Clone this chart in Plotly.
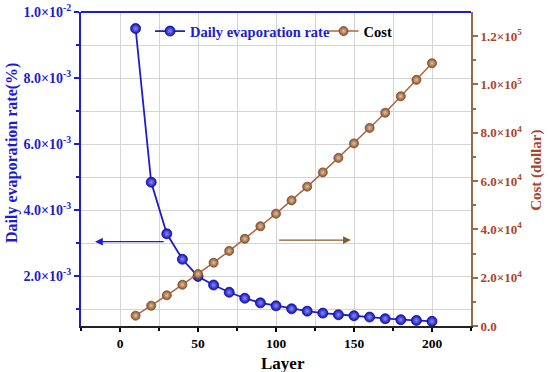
import plotly.graph_objects as go

layers = [10, 20, 30, 40, 50, 60, 70, 80, 90, 100, 110, 120, 130, 140, 150, 160, 170, 180, 190, 200]
evap_rate = [9.5e-3, 4.85e-3, 3.29e-3, 2.52e-3, 2.0e-3, 1.74e-3, 1.52e-3, 1.34e-3, 1.20e-3, 1.11e-3,
             1.02e-3, 0.95e-3, 0.89e-3, 0.84e-3, 0.81e-3, 0.77e-3, 0.72e-3, 0.69e-3, 0.67e-3, 0.64e-3]
cost = [4270, 8400, 12700, 17100, 21500, 26200, 31100, 36100, 41300, 46500,
        52000, 57700, 63600, 69600, 75600, 82000, 88300, 95100, 101900, 108800]

left_tickvals = [2e-3, 4e-3, 6e-3, 8e-3, 1e-2]
left_ticktext = ["2.0×10<sup>-3</sup>", "4.0×10<sup>-3</sup>", "6.0×10<sup>-3</sup>",
                 "8.0×10<sup>-3</sup>", "1.0×10<sup>-2</sup>"]
right_tickvals = [0, 20000, 40000, 60000, 80000, 100000, 120000]
right_ticktext = ["0.0", "2.0×10<sup>4</sup>", "4.0×10<sup>4</sup>", "6.0×10<sup>4</sup>",
                  "8.0×10<sup>4</sup>", "1.0×10<sup>5</sup>", "1.2×10<sup>5</sup>"]

BLUE = "#1c1cd0"
BROWN_LINE = "#9a6a44"
BROWN_TEXT = "#a8462e"
FONT = "Liberation Serif"

fig = go.Figure()
fig.add_trace(go.Scatter(
    x=layers, y=evap_rate, mode="lines+markers",
    name="<span style='color:#1c1cd0'>Daily evaporation rate</span>",
    line=dict(color=BLUE, width=1.8),
    marker=dict(size=10, color="#1010b8", gradient=dict(type="radial", color="#8c8cff"),
                line=dict(color="#10108a", width=0.8)),
    legend="legend", yaxis="y"))
fig.add_trace(go.Scatter(
    x=layers, y=cost, mode="lines+markers", name="Cost",
    line=dict(color="#b0653e", width=1.5),
    marker=dict(size=9, color="#8a5530", gradient=dict(type="radial", color="#e6c29a"),
                line=dict(color="#7a4a2a", width=0.8)),
    legend="legend2", yaxis="y2"))

fig.update_layout(
    width=550, height=372,
    margin=dict(l=81, r=79, t=12, b=46, autoexpand=False),
    paper_bgcolor="white", plot_bgcolor="white",
    font=dict(family=FONT, size=13, color="black"),
    showlegend=True,
    legend=dict(orientation="h", x=0.177, y=0.99, xanchor="left", yanchor="top",
                bgcolor="rgba(0,0,0,0)", font=dict(family=FONT, size=14.5, weight="bold"),
                itemwidth=30),
    legend2=dict(orientation="h", x=0.622, y=0.99, xanchor="left", yanchor="top",
                 bgcolor="rgba(0,0,0,0)", font=dict(family=FONT, size=14.5, weight="bold",
                                                    color="black"),
                 itemwidth=30),
    xaxis=dict(
        range=[-25, 225], tickvals=[0, 50, 100, 150, 200], automargin=False,
        ticks="outside", ticklen=4, tickwidth=1.5, tickcolor="black",
        showline=True, linecolor="#222222", linewidth=2,
        showgrid=True, gridcolor="#d4d4d4", gridwidth=1, zeroline=False,
        minor=dict(tickvals=[-25, 25, 75, 125, 175, 225], ticks="outside", ticklen=3,
                   tickcolor="black", showgrid=True, gridcolor="#d4d4d4"),
        tickfont=dict(family=FONT, size=13.5, weight="bold", color="black"),
    ),
    yaxis=dict(
        range=[0.0005, 0.01], tickmode="array", tickvals=left_tickvals, ticktext=left_ticktext,
        automargin=False,
        ticks="outside", ticklen=5, tickwidth=1.5, tickcolor=BLUE,
        showline=True, linecolor=BLUE, linewidth=2,
        showgrid=True, gridcolor="#d4d4d4", zeroline=False,
        minor=dict(tickvals=[1e-3, 3e-3, 5e-3, 7e-3, 9e-3], ticks="outside", ticklen=3,
                   tickcolor=BLUE, showgrid=True, gridcolor="#d4d4d4"),
        tickfont=dict(family=FONT, size=14, weight="bold", color=BLUE),
    ),
    yaxis2=dict(
        overlaying="y", side="right", range=[0, 130000], automargin=False,
        tickmode="array", tickvals=right_tickvals, ticktext=right_ticktext,
        ticks="outside", ticklen=5, tickwidth=1.5, tickcolor=BROWN_LINE,
        showline=True, linecolor=BROWN_LINE, linewidth=2,
        showgrid=False, zeroline=False,
        minor=dict(tickvals=[10000, 30000, 50000, 70000, 90000, 110000], ticks="outside",
                   ticklen=3, tickcolor=BROWN_LINE),
        tickfont=dict(family=FONT, size=13, weight="bold", color=BROWN_TEXT),
    ),
)

# axis titles
fig.add_annotation(text="Daily evaporation rate(%)", xref="paper", yref="paper",
                   x=-0.177, y=0.551, textangle=-90, showarrow=False,
                   xanchor="center", yanchor="middle",
                   font=dict(family=FONT, size=16, weight="bold", color=BLUE))
fig.add_annotation(text="Layer", xref="paper", yref="paper",
                   x=0.518, y=-0.118, showarrow=False, xanchor="center", yanchor="middle",
                   font=dict(family=FONT, size=17, weight="bold", color="black"))
fig.add_annotation(text="Cost (dollar)", xref="paper", yref="paper",
                   x=1.169, y=0.497, textangle=-90, showarrow=False,
                   xanchor="center", yanchor="middle",
                   font=dict(family=FONT, size=15, weight="bold", color=BROWN_TEXT))

# top border in blue
fig.add_shape(type="line", xref="paper", yref="paper", x0=0, x1=1, y0=1, y1=1,
              line=dict(color=BLUE, width=2))

# direction arrows
fig.add_annotation(x=-16, y=3.05e-3, ax=29, ay=3.05e-3, xref="x", yref="y", axref="x", ayref="y",
                   showarrow=True, arrowhead=2, arrowsize=1.2, arrowwidth=1.3, arrowcolor=BLUE, text="")
fig.add_annotation(x=148, y=3.1e-3, ax=101, ay=3.1e-3, xref="x", yref="y", axref="x", ayref="y",
                   showarrow=True, arrowhead=2, arrowsize=1.2, arrowwidth=1.3, arrowcolor="#8a5a2a", text="")

fig.write_html("out.html", config={"displayModeBar": False},
               post_script="document.body.style.margin='0';document.body.style.overflow='hidden';")
